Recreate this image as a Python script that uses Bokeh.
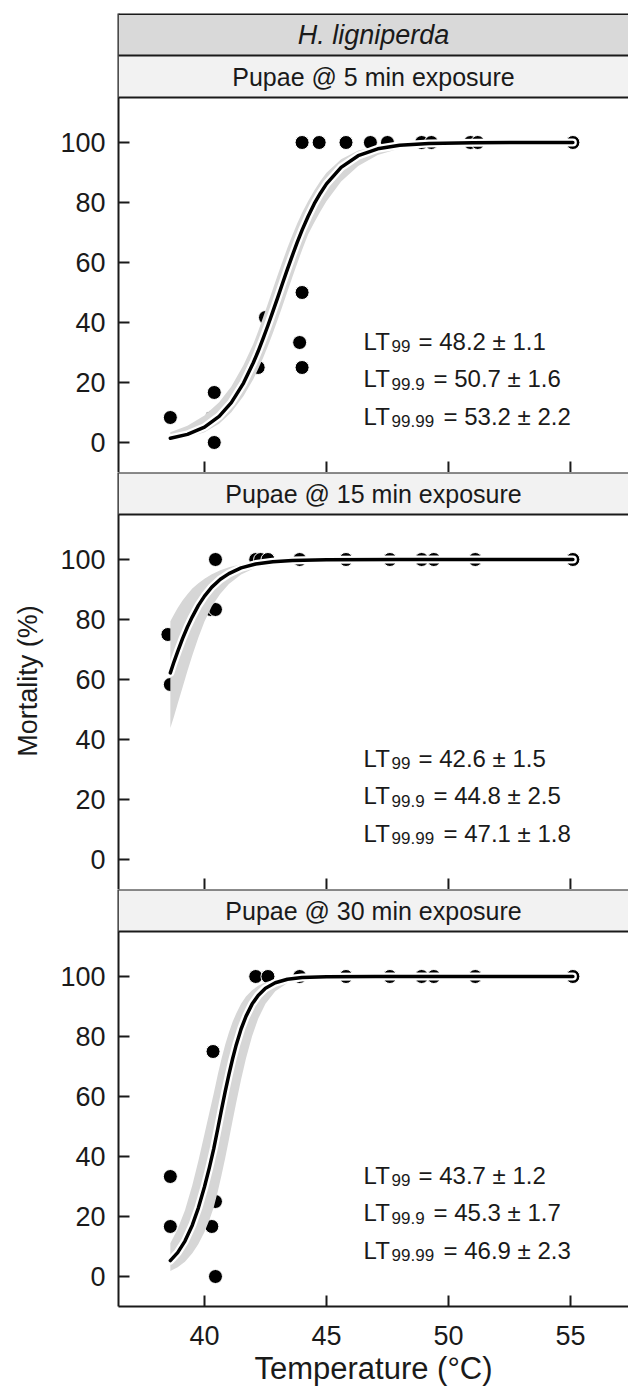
from bokeh.plotting import figure
from bokeh.layouts import column
from bokeh.models import Span, BoxAnnotation, Label, FixedTicker, Range1d
from bokeh.embed import file_html
from bokeh.resources import INLINE

# ---------------- data ----------------
species = "H. ligniperda"
panel_titles = ["Pupae @ 5 min exposure", "Pupae @ 15 min exposure", "Pupae @ 30 min exposure"]
x_ticks = [40, 45, 50, 55]
y_ticks = [0, 20, 40, 60, 80, 100]
x_title = "Temperature (°C)"
y_title = "Mortality (%)"

# observed mortality (5 min)
temp_5 = [38.6, 40.3, 40.4, 40.4, 42.2, 42.5, 43.9, 44.0, 44.0, 44.0, 44.7, 45.8, 46.8, 47.5, 48.9, 49.3, 50.9, 51.2, 55.1]
mort_5 = [8.33, 8.33, 16.67, 0, 25, 41.67, 33.33, 25, 50, 100, 100, 100, 100, 100, 100, 100, 100, 100, 100]
# observed mortality (15 min)
temp_15 = [38.5, 38.6, 40.2, 40.25, 40.45, 40.45, 42.1, 42.3, 42.6, 43.9, 45.8, 47.6, 48.9, 49.4, 51.1, 55.1]
mort_15 = [75, 58.33, 91.67, 83.33, 83.33, 100, 100, 100, 100, 100, 100, 100, 100, 100, 100, 100]
# observed mortality (30 min)
temp_30 = [38.6, 38.6, 40.3, 40.35, 40.45, 40.45, 40.45, 42.1, 42.6, 43.9, 45.8, 47.6, 48.9, 49.4, 51.1, 55.1]
mort_30 = [33.33, 16.67, 16.67, 75, 41.67, 25, 0, 100, 100, 100, 100, 100, 100, 100, 100, 100]

# fitted curve and confidence band (5 min)
fit_x_5 = [38.6, 39.3, 40.0, 40.6, 41.1, 41.6, 42.0, 42.2, 42.4, 42.6, 42.8, 43.0, 43.2, 43.4, 43.6, 43.8, 44.0, 44.25, 44.5, 44.75, 45.0, 45.6, 46.3, 47.1, 48.0, 49.2, 51.0, 55.1]
fit_y_5 = [1.41, 2.71, 5.13, 8.73, 13.3, 19.8, 26.6, 30.4, 34.6, 39.0, 43.6, 48.3, 53.1, 57.8, 62.3, 66.7, 70.8, 75.4, 79.6, 83.1, 86.2, 91.7, 95.6, 97.9, 99.08, 99.70, 99.95, 100]
fit_lo_5 = [0.78, 1.66, 3.44, 6.26, 10.05, 15.5, 21.1, 24.5, 28.2, 32.2, 36.4, 40.9, 45.6, 50.3, 55.1, 59.7, 64.2, 69.4, 73.3, 77.0, 80.4, 87.0, 92.2, 95.8, 97.98, 99.28, 99.85, 100]
fit_hi_5 = [3.40, 5.56, 8.98, 13.4, 18.7, 25.8, 32.8, 37.1, 41.7, 46.3, 51.1, 55.8, 60.4, 64.9, 69.1, 73.0, 76.6, 80.5, 84.0, 87.2, 89.9, 94.4, 97.3, 98.76, 99.50, 99.85, 99.97, 100]

# fitted curve and confidence band (15 min)
fit_x_15 = [38.6, 38.75, 38.9, 39.1, 39.3, 39.5, 39.75, 40.0, 40.3, 40.65, 41.0, 41.5, 42.1, 42.8, 43.6, 45.0, 48.0, 55.1]
fit_y_15 = [62.2, 65.9, 69.3, 73.6, 77.5, 80.9, 84.7, 87.8, 90.8, 93.4, 95.3, 97.2, 98.5, 99.27, 99.68, 99.93, 99.99, 100]
fit_lo_15 = [43.8, 47.7, 51.9, 57.3, 62.8, 68.0, 74.0, 79.3, 84.4, 88.6, 91.8, 95.0, 97.3, 98.67, 99.42, 99.87, 99.99, 100]
fit_hi_15 = [79.4, 81.7, 83.8, 86.3, 88.4, 90.3, 92.1, 93.6, 95.1, 96.4, 97.4, 98.4, 99.16, 99.60, 99.83, 99.96, 100, 100]

# fitted curve and confidence band (30 min)
fit_x_30 = [38.6, 38.9, 39.2, 39.5, 39.75, 40.0, 40.2, 40.38, 40.55, 40.7, 40.85, 41.0, 41.15, 41.3, 41.5, 41.7, 41.95, 42.2, 42.5, 42.9, 43.4, 44.0, 45.0, 47.0, 55.1]
fit_y_30 = [5.31, 7.97, 11.8, 17.1, 22.9, 29.9, 36.3, 42.6, 49.5, 55.7, 61.7, 67.3, 72.5, 77.2, 82.5, 86.7, 90.8, 93.7, 96.1, 97.9, 99.08, 99.66, 99.93, 99.99, 100]
fit_lo_30 = [1.83, 3.09, 4.92, 7.76, 10.8, 14.8, 18.8, 23.1, 28.5, 33.8, 39.5, 45.6, 51.8, 57.9, 65.7, 72.7, 80.1, 85.9, 90.9, 95.1, 97.8, 99.16, 99.84, 99.99, 100]
fit_hi_30 = [11.1, 15.8, 22.1, 30.4, 38.6, 47.5, 54.7, 61.1, 67.5, 72.7, 77.3, 81.3, 84.8, 87.7, 90.9, 93.3, 95.4, 96.9, 98.1, 99.01, 99.56, 99.84, 99.97, 100, 100]

# lethal temperature estimates
lt_subscripts = ["99", "99.9", "99.99"]
lt_5 = ["48.2 ± 1.1", "50.7 ± 1.6", "53.2 ± 2.2"]
lt_15 = ["42.6 ± 1.5", "44.8 ± 2.5", "47.1 ± 1.8"]
lt_30 = ["43.7 ± 1.2", "45.3 ± 1.7", "46.9 ± 2.3"]

# ---------------- style / layout ----------------
FONT = "Liberation Sans"
TXT = "#1a1a1a"
LINEC = "#1a1a1a"
X0, X1 = 36.475, 57.38
Y0, YTOP = -10.0, 115.0
STRIP = 14.0            # one strip height in data units (42 px)
PANEL_PX = 375
STRIP_PX = 42
TICK_LEN = 11 / 3.0     # tick length in data units (3 px per unit)
LT_X = 46.52
LT_BASE_Y = [33.7, 21.2, 8.8]
REST_OFFSET = [55, 70, 80]


def style_axis(ax):
    ax.axis_line_width = 2
    ax.axis_line_color = LINEC
    ax.major_tick_line_width = 2
    ax.major_tick_line_color = LINEC
    ax.major_tick_in = 11
    ax.major_tick_out = 0
    ax.minor_tick_line_color = None
    ax.major_label_text_font = FONT
    ax.major_label_text_color = TXT
    ax.major_label_text_font_size = "27px"
    ax.axis_label_text_font = FONT
    ax.axis_label_text_color = TXT
    ax.axis_label_text_font_style = "normal"


def make_panel(idx, xs, ys, fx, fy, flo, fhi, lts):
    nstrips = 2 if idx == 0 else 1
    ytop = YTOP + STRIP * nstrips
    last = idx == 2
    p = figure(frame_width=510, frame_height=PANEL_PX + STRIP_PX * nstrips,
               x_range=Range1d(X0, X1), y_range=Range1d(Y0, ytop),
               output_backend="svg", toolbar_location=None,
               x_axis_location="below" if last else None,
               min_border_left=118, min_border_right=0,
               min_border_top=13 if idx == 0 else 0,
               min_border_bottom=87 if last else 0)
    p.outline_line_color = None
    p.xgrid.visible = False
    p.ygrid.visible = False
    p.background_fill_color = "white"
    p.border_fill_color = "white"

    yax = p.yaxis[0]
    style_axis(yax)
    yax.ticker = FixedTicker(ticks=y_ticks)
    yax.major_label_standoff = 13
    if idx == 1:
        yax.axis_label = y_title
        yax.axis_label_text_font_size = "27px"
        yax.axis_label_standoff = 14

    if last:
        xax = p.xaxis[0]
        style_axis(xax)
        xax.ticker = FixedTicker(ticks=x_ticks)
        xax.major_label_standoff = 19
        xax.axis_label = x_title
        xax.axis_label_text_font_size = "31px"
        xax.axis_label_standoff = 3
    else:
        # inward x ticks at the bottom of the panel (labels only on the last panel)
        p.segment(x0=x_ticks, y0=[Y0] * len(x_ticks), x1=x_ticks,
                  y1=[Y0 + TICK_LEN] * len(x_ticks), line_color=LINEC, line_width=2)

    # strips
    p.add_layout(BoxAnnotation(bottom=YTOP, top=YTOP + STRIP, fill_color="#f2f2f2",
                               fill_alpha=1, line_color=None))
    p.add_layout(Label(x=(X0 + X1) / 2, y=YTOP + STRIP / 2, text=panel_titles[idx],
                       text_font=FONT, text_font_size="25px", text_color=TXT,
                       text_align="center", text_baseline="middle"))
    p.add_layout(Span(location=YTOP, dimension="width", line_color=LINEC, line_width=2))
    if idx == 0:
        p.add_layout(BoxAnnotation(bottom=YTOP + STRIP, top=YTOP + 2 * STRIP,
                                   fill_color="#d9d9d9", fill_alpha=1, line_color=None))
        p.add_layout(Label(x=(X0 + X1) / 2, y=YTOP + STRIP * 1.5, text=species,
                           text_font=FONT, text_font_size="27px", text_font_style="italic",
                           text_color=TXT, text_align="center", text_baseline="middle"))
        p.add_layout(Span(location=YTOP + STRIP, dimension="width", line_color=LINEC, line_width=2))
        p.add_layout(Span(location=ytop, dimension="width", line_color=LINEC, line_width=3))
    else:
        p.add_layout(Span(location=ytop, dimension="width", line_color=LINEC, line_width=2))

    # data
    p.scatter(xs, ys, size=14, fill_color="black", line_color="white", line_width=1)
    p.varea(x=fx, y1=flo, y2=fhi, fill_color="#d6d6d6")
    p.line(fx, fy, line_color="white", line_width=8, line_join="round", line_cap="round")
    p.line(fx, fy, line_color="black", line_width=3.5, line_join="round", line_cap="round")

    # LT annotation
    for sub, val, yb, off in zip(lt_subscripts, lts, LT_BASE_Y, REST_OFFSET):
        p.add_layout(Label(x=LT_X, y=yb, text="LT", text_font=FONT, text_font_size="24px",
                           text_color=TXT, text_baseline="alphabetic"))
        p.add_layout(Label(x=LT_X, y=yb, x_offset=28, y_offset=-5, text=sub, text_font=FONT,
                           text_font_size="17px", text_color=TXT, text_baseline="alphabetic"))
        p.add_layout(Label(x=LT_X, y=yb, x_offset=off, text="= " + val, text_font=FONT,
                           text_font_size="24px", text_color=TXT, text_baseline="alphabetic"))
    return p


f1 = make_panel(0, temp_5, mort_5, fit_x_5, fit_y_5, fit_lo_5, fit_hi_5, lt_5)
f2 = make_panel(1, temp_15, mort_15, fit_x_15, fit_y_15, fit_lo_15, fit_hi_15, lt_15)
f3 = make_panel(2, temp_30, mort_30, fit_x_30, fit_y_30, fit_lo_30, fit_hi_30, lt_30)

layout = column(f1, f2, f3, spacing=0)
open("out.html", "w").write(file_html(layout, INLINE))
